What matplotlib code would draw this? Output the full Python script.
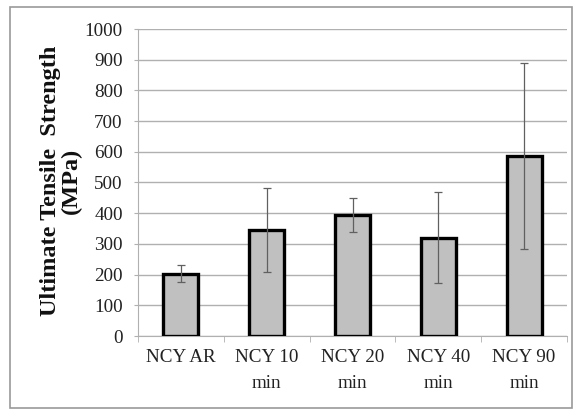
import matplotlib
matplotlib.use("Agg")
import matplotlib.pyplot as plt
from matplotlib.patches import Rectangle

categories = ["NCY AR", "NCY 10\nmin", "NCY 20\nmin", "NCY 40\nmin", "NCY 90\nmin"]
values = [203, 345, 394, 320, 586]
errors = [28, 137, 56, 148, 303]
yticks = [0, 100, 200, 300, 400, 500, 600, 700, 800, 900, 1000]

plt.rcParams['font.family'] = ['Liberation Serif', 'DejaVu Serif']

W, H = 576, 411
fig = plt.figure(figsize=(W/100, H/100), dpi=100)
ax = fig.add_axes([138/W, 1 - 336/H, (567-138)/W, (336-29)/H])

x = list(range(len(categories)))
ax.bar(x, values, width=0.41, color='#c0c0c0', edgecolor='black', linewidth=2.4, zorder=3)
ax.errorbar(x, values, yerr=errors, fmt='none', ecolor='#606060', elinewidth=0.9,
            capsize=3, capthick=0.9, zorder=4)

ax.set_ylim(0, 1000)
ax.set_xlim(-0.5, len(categories) - 0.5)
ax.set_yticks(yticks)
ax.set_yticklabels([str(v) for v in yticks], fontsize=13.8, color='#222222')
ax.yaxis.grid(True, color='#b0b0b0', linewidth=1.0, zorder=0)
ax.set_axisbelow(True)

ax.set_xticks(x)
ax.set_xticklabels(categories, fontsize=13.8, color='#222222', linespacing=1.75)
ax.tick_params(axis='x', length=0, pad=9)
ax.set_xticks([i + 0.5 for i in range(-1, len(categories))], minor=True)
ax.tick_params(axis='x', which='minor', length=4, color='#b0b0b0')
ax.tick_params(axis='y', length=3, color='#b0b0b0', pad=8)

for s in ['top', 'right']:
    ax.spines[s].set_visible(False)
ax.spines['left'].set_color('#b0b0b0')
ax.spines['bottom'].set_color('#b0b0b0')

fig.text(61/W, 1 - 181/H, "Ultimate Tensile  Strength\n(MPa)", rotation=90,
         ha='center', va='center', fontsize=17.5, fontweight='bold',
         linespacing=0.95, color='#111111')

fig.patches.append(Rectangle((10/W, 3/H), (572-10)/W, (404-3)/H,
                             transform=fig.transFigure, fill=False,
                             edgecolor='#999999', linewidth=1.2))

fig.savefig("out.png", dpi=100)
